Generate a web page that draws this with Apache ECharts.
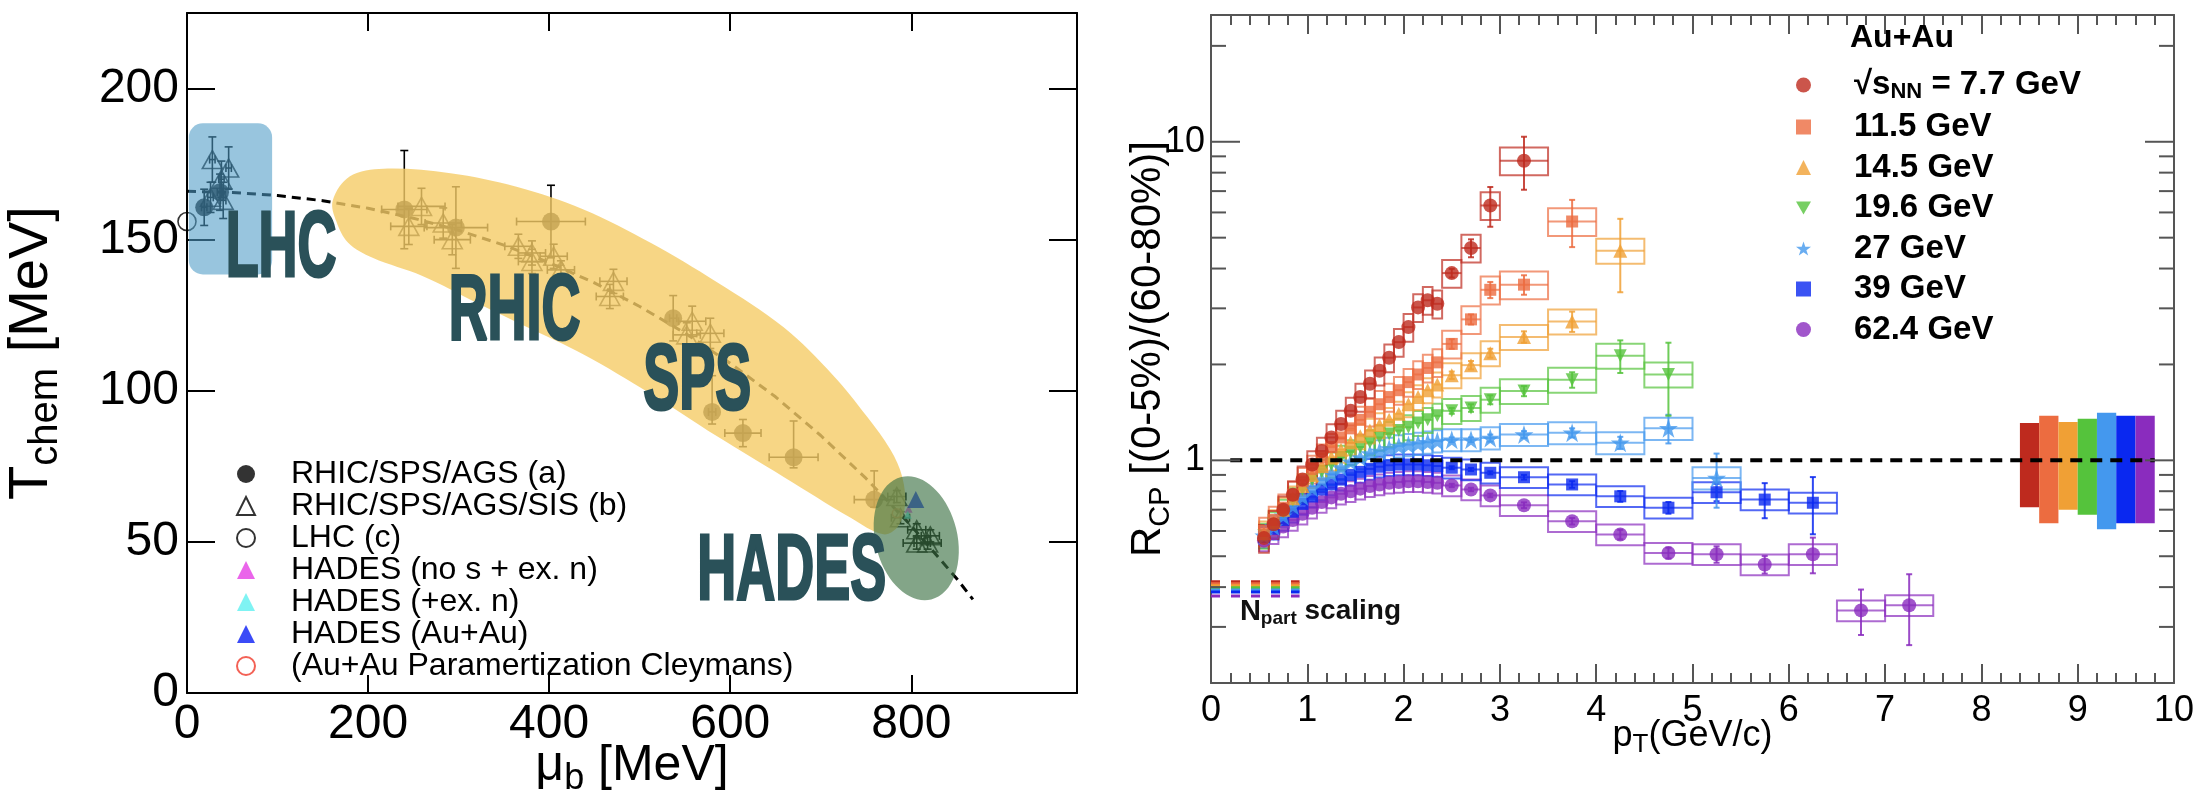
<!DOCTYPE html>
<html>
<head>
<meta charset="utf-8">
<script src="https://cdn.jsdelivr.net/npm/echarts@6/dist/echarts.min.js"></script>
<style>
html, body { margin: 0; padding: 0; background: #fff; }
#chart { width: 2204px; height: 810px; }
</style>
</head>
<body>
<div id="chart"></div>
<script>
const FONT = '"Liberation Sans", Arial, sans-serif'

// region left panel data (mu_b [MeV], T_chem [MeV])

const curveMu = [0, 50, 100, 150, 200, 250, 300, 350, 400, 450, 500, 550, 600, 650, 700, 750, 800, 850, 868]
const curveT = [166, 165.6, 164.6, 162.9, 160.4, 157.1, 153.1, 148.2, 142.4, 135.7, 127.9, 119.1, 109.1, 98, 85.2, 71, 55.3, 37.9, 31]

const aMu = [19, 36.5, 240, 297, 402, 537, 580, 614, 670, 759]
const aT = [160.7, 165.7, 160, 154, 156, 124, 93, 86, 78, 64]
const aMuErr = [3, 3, 25, 35, 38, 4, 4, 20, 27, 22]
const aTLo = [6, 6, 13, 13.5, 12, 7.5, 4, 4.5, 3.5, 2.5]
const aTHi = [6, 6, 19.5, 13.5, 12, 7.5, 12, 4.5, 12, 9.5]

const bMu = [28, 46, 38, 26, 40, 259, 245, 283, 293, 366, 381, 381, 405, 413, 471, 467, 558, 552, 578, 784, 788, 806, 821, 806, 818]
const bT = [176.5, 173.7, 170, 164, 163, 161, 154.4, 155.5, 150, 147.8, 145.6, 142.8, 144.5, 140, 136.2, 131.2, 123, 118.5, 119, 65, 58, 54, 52, 49.6, 49.6]
const bMuErr = [3, 3, 3, 3, 3, 26, 20, 20, 20, 15, 15, 15, 15, 15, 15, 15, 15, 15, 15, 10, 10, 10, 10, 15, 15]
const bTErr = [7.5, 7, 6, 5, 6, 6, 6, 5, 5, 4, 4, 4, 4, 3, 4, 4, 5, 4, 5, 2, 2, 2, 2, 2, 2]

const lhcPoint = [[0, 156]]
const hadesNoS = [[797, 61]]
const hadesExN = [[796, 59]]
const hadesAuAu = [[805, 64]]
const cleymansPoint = [[784, 59.5]]

const blueBoxCorners = [[2, 188.5], [94, 138.5]]
const yellowBand = [[161, 163], [180, 171], [217, 173.5], [291, 172], [364, 167.5], [438, 160], [512, 149], [585, 136],
  [659, 121], [714, 105], [751, 91.5], [777, 80.5], [790, 71.5], [793, 62], [785, 55], [769, 52.5], [733, 58],
  [659, 71.5], [585, 85], [512, 99], [438, 112], [376, 121], [321, 129], [260, 138], [205, 144], [178, 149], [165, 156]]
const greenEllipseCenter = [805.5, 51.2]

const regionNames = ['LHC', 'RHIC', 'SPS', 'HADES']
const regionPos = [[42.7, 146.4], [289, 125.5], [504, 102.5], [563.7, 39.6]]

// endregion

// region right panel data (pT [GeV/c], R_CP)

const ptCenters = [0.55, 0.65, 0.75, 0.85, 0.95, 1.05, 1.15, 1.25, 1.35, 1.45, 1.55, 1.65, 1.75, 1.85, 1.95, 2.05, 2.15, 2.25, 2.35,
  2.5, 2.7, 2.9, 3.25, 3.75, 4.25, 4.75, 5.25, 5.75, 6.25, 6.75, 7.25]
const ptHalfWidths = [0.05, 0.05, 0.05, 0.05, 0.05, 0.05, 0.05, 0.05, 0.05, 0.05, 0.05, 0.05, 0.05, 0.05, 0.05, 0.05, 0.05, 0.05, 0.05,
  0.1, 0.1, 0.1, 0.25, 0.25, 0.25, 0.25, 0.25, 0.25, 0.25, 0.25, 0.25]

const rcp7p7 = [0.57, 0.63, 0.70, 0.78, 0.87, 0.97, 1.07, 1.18, 1.30, 1.43, 1.58, 1.74, 1.91, 2.10, 2.35, 2.62, 3.02, 3.18, 3.10,
  3.87, 4.64, 6.31, 8.72, null, null, null, null, null, null, null, null]
const rcp11p5 = [0.60, 0.65, 0.71, 0.78, 0.86, 0.94, 1.02, 1.10, 1.18, 1.26, 1.34, 1.42, 1.50, 1.58, 1.66, 1.76, 1.86, 1.95, 2.03,
  2.32, 2.77, 3.43, 3.56, 5.62, null, null, null, null, null, null, null]
const rcp14p5 = [0.59, 0.64, 0.70, 0.76, 0.83, 0.90, 0.96, 1.02, 1.08, 1.14, 1.19, 1.24, 1.29, 1.34, 1.40, 1.50, 1.58, 1.66, 1.73,
  1.85, 1.99, 2.17, 2.44, 2.73, 4.55, null, null, null, null, null, null]
const rcp19p6 = [0.58, 0.63, 0.69, 0.75, 0.81, 0.87, 0.92, 0.97, 1.02, 1.06, 1.10, 1.14, 1.18, 1.21, 1.24, 1.27, 1.31, 1.34, 1.38,
  1.43, 1.46, 1.55, 1.65, 1.79, 2.13, 1.86, null, null, null, null, null]
const rcp27 = [0.58, 0.62, 0.67, 0.72, 0.77, 0.82, 0.87, 0.91, 0.95, 0.99, 1.02, 1.05, 1.07, 1.09, 1.11, 1.12, 1.13, 1.14, 1.15,
  1.16, 1.16, 1.175, 1.205, 1.22, 1.135, 1.26, 0.88, null, null, null, null]
const rcp39 = [0.575, 0.61, 0.65, 0.69, 0.73, 0.77, 0.81, 0.84, 0.87, 0.90, 0.92, 0.94, 0.955, 0.965, 0.97, 0.97, 0.97, 0.965, 0.96,
  0.948, 0.936, 0.914, 0.885, 0.84, 0.771, 0.71, 0.794, 0.753, 0.736, null, null]
const rcp62p4 = [0.56, 0.59, 0.62, 0.65, 0.68, 0.71, 0.74, 0.765, 0.785, 0.80, 0.815, 0.83, 0.84, 0.85, 0.855, 0.86, 0.86, 0.855, 0.85,
  0.834, 0.81, 0.776, 0.723, 0.644, 0.585, 0.512, 0.507, 0.471, 0.507, 0.338, 0.351]

// statistical errors of the wide bins (pT >= 2.5), same order as ptCenters from index 19
const stat7p7 = [0.12, 0.3, 0.9, 1.65]
const stat11p5 = [0.08, 0.1, 0.2, 0.25, 0.95]
const stat14p5 = [0.05, 0.06, 0.07, 0.1, 0.2, 1.18]
const stat19p6 = [0.03, 0.04, 0.05, 0.06, 0.1, 0.25, 0.48]
const stat27 = [0.02, 0.02, 0.03, 0.03, 0.04, 0.05, 0.13, 0.17]
const stat39 = [0.01, 0.01, 0.01, 0.015, 0.02, 0.03, 0.03, 0.05, 0.095, 0.15]
const stat62p4 = [0.01, 0.01, 0.01, 0.015, 0.015, 0.02, 0.02, 0.03, 0.03, 0.065, 0.055, 0.088]

const energyNames = ['7.7 GeV', '11.5 GeV', '14.5 GeV', '19.6 GeV', '27 GeV', '39 GeV', '62.4 GeV']
const energyColors = ['#be2a1e', '#ec6c40', '#f0a035', '#55c33c', '#4498ee', '#0a28f0', '#8a2cbe']
const sysRel = [0.10, 0.10, 0.09, 0.09, 0.08, 0.075, 0.075]

const normCenters = [8.5, 8.7, 8.9, 9.1, 9.3, 9.5, 9.7]
const normLow = [0.713, 0.635, 0.70, 0.675, 0.608, 0.635, 0.635]
const normHigh = [1.31, 1.38, 1.32, 1.35, 1.41, 1.38, 1.38]
const npartLevels = [0.416, 0.41, 0.404, 0.398, 0.392, 0.386, 0.375]

const rcpMinorTicks = [0.2, 0.3, 0.4, 0.5, 0.6, 0.7, 0.8, 0.9, 2, 3, 4, 5, 6, 7, 8, 9, 20]
const rcpMajorTicks = [1, 10]

// endregion

const starPath = 'path://M50,0L61.8,35.5L99,35.5L69,57.5L80.5,93L50,71L19.5,93L31,57.5L1,35.5L38.2,35.5Z'
const downTriPath = 'path://M0,0L100,0L50,87Z'
const energySymbols = ['circle', 'rect', 'triangle', downTriPath, starPath, 'rect', 'circle']
const energySizes = [14, 12, 14, 13, 19, 12, 14]
const allRcp = [rcp7p7, rcp11p5, rcp14p5, rcp19p6, rcp27, rcp39, rcp62p4]
const allStat = [stat7p7, stat11p5, stat14p5, stat19p6, stat27, stat39, stat62p4]

function ln(x1, y1, x2, y2, stroke, w, opacity) {
  return {type: 'line', shape: {x1, y1, x2, y2}, style: {stroke, lineWidth: w, opacity: opacity == null ? 1 : opacity}}
}

function zip(xs, ys) {
  return xs.map((x, i) => [x, ys[i]])
}

// region left series

function leftErrorBars(mu, t, muErr, tLo, tHi) {
  return {
    type: 'custom', xAxisIndex: 0, yAxisIndex: 0, z: 2, silent: true,
    data: mu.map((m, i) => [m, t[i], muErr[i], tLo[i], tHi[i]]),
    renderItem: (params, api) => {
      const x = api.value(0), y = api.value(1), ex = api.value(2)
      const top = api.coord([x, y + api.value(4)])
      const bot = api.coord([x, y - api.value(3)])
      const l = api.coord([x - ex, y])
      const r = api.coord([x + ex, y])
      const cap = 4
      const ch = [
        ln(top[0], top[1], bot[0], bot[1], '#000', 1.6),
        ln(top[0] - cap, top[1], top[0] + cap, top[1], '#000', 1.6),
        ln(bot[0] - cap, bot[1], bot[0] + cap, bot[1], '#000', 1.6)
      ]
      if (ex > 0) {
        ch.push(ln(l[0], l[1], r[0], r[1], '#000', 1.6))
        ch.push(ln(l[0], l[1] - cap, l[0], l[1] + cap, '#000', 1.6))
        ch.push(ln(r[0], r[1] - cap, r[0], r[1] + cap, '#000', 1.6))
      }
      return {type: 'group', children: ch}
    }
  }
}

const leftSeries = [
  {
    type: 'line', xAxisIndex: 0, yAxisIndex: 0, z: 2, silent: true, symbol: 'none',
    data: zip(curveMu, curveT),
    lineStyle: {color: '#000', width: 3, type: [9, 6]}
  },
  leftErrorBars(aMu, aT, aMuErr, aTLo, aTHi),
  leftErrorBars(bMu, bT, bMuErr, bTErr, bTErr),
  {
    name: 'RHIC/SPS/AGS (a)', type: 'scatter', xAxisIndex: 0, yAxisIndex: 0, z: 2,
    symbol: 'circle', symbolSize: 18, itemStyle: {color: '#000'},
    data: zip(aMu, aT)
  },
  {
    name: 'RHIC/SPS/AGS/SIS (b)', type: 'scatter', xAxisIndex: 0, yAxisIndex: 0, z: 2,
    symbol: 'triangle', symbolSize: [20, 18], itemStyle: {color: 'rgba(0,0,0,0)', borderColor: '#000', borderWidth: 1.6},
    data: zip(bMu, bT)
  },
  {
    name: 'LHC (c)', type: 'scatter', xAxisIndex: 0, yAxisIndex: 0, z: 2, clip: false,
    symbol: 'circle', symbolSize: 18, itemStyle: {color: 'rgba(0,0,0,0)', borderColor: '#000', borderWidth: 1.6},
    data: lhcPoint
  },
  {
    name: 'HADES (no s + ex. n)', type: 'scatter', xAxisIndex: 0, yAxisIndex: 0, z: 2,
    symbol: 'triangle', symbolSize: 8, itemStyle: {color: '#e53fe5'},
    data: hadesNoS
  },
  {
    name: 'HADES (+ex. n)', type: 'scatter', xAxisIndex: 0, yAxisIndex: 0, z: 2,
    symbol: 'triangle', symbolSize: 8, itemStyle: {color: '#5ff0f0'},
    data: hadesExN
  },
  {
    name: 'HADES (Au+Au)', type: 'scatter', xAxisIndex: 0, yAxisIndex: 0, z: 2,
    symbol: 'triangle', symbolSize: 17, itemStyle: {color: '#0a1ef5'},
    data: hadesAuAu
  },
  {
    name: '(Au+Au Paramertization Cleymans)', type: 'scatter', xAxisIndex: 0, yAxisIndex: 0, z: 2,
    symbol: 'circle', symbolSize: 9, itemStyle: {color: 'rgba(0,0,0,0)', borderColor: '#f03a2a', borderWidth: 1.5},
    data: cleymansPoint
  },
  {
    type: 'custom', xAxisIndex: 0, yAxisIndex: 0, z: 3, silent: true,
    data: [blueBoxCorners[0]],
    renderItem: (params, api) => {
      const p0 = api.coord(blueBoxCorners[0]), p1 = api.coord(blueBoxCorners[1])
      return {
        type: 'rect',
        shape: {x: p0[0], y: p0[1], width: p1[0] - p0[0], height: p1[1] - p0[1], r: 14},
        style: {fill: 'rgba(78,155,198,0.58)'}
      }
    }
  },
  {
    type: 'custom', xAxisIndex: 0, yAxisIndex: 0, z: 3, silent: true,
    data: [yellowBand[0]],
    renderItem: (params, api) => ({
      type: 'polygon',
      shape: {points: yellowBand.map(p => api.coord(p)), smooth: 0.35},
      style: {fill: 'rgba(245,204,103,0.8)'}
    })
  },
  {
    type: 'custom', xAxisIndex: 0, yAxisIndex: 0, z: 3, silent: true,
    data: [greenEllipseCenter],
    renderItem: (params, api) => {
      const c = api.coord(greenEllipseCenter)
      return {
        type: 'ellipse', x: c[0], y: c[1], rotation: 0.24,
        shape: {cx: 0, cy: 0, rx: 41, ry: 63},
        style: {fill: 'rgba(61,114,69,0.64)'}
      }
    }
  },
  {
    type: 'custom', xAxisIndex: 0, yAxisIndex: 0, z: 4, silent: true,
    data: regionPos,
    renderItem: (params, api) => {
      const p = api.coord([api.value(0), api.value(1)])
      return {
        type: 'text', x: p[0], y: p[1], scaleX: 0.58,
        style: {
          text: regionNames[params.dataIndex], font: 'bold 93px "Liberation Sans"',
          fill: '#2a5159', stroke: '#2a5159', lineWidth: 3, align: 'left', verticalAlign: 'middle'
        }
      }
    }
  }
]

// endregion

// region right series

function sysBoxSeries(k) {
  const values = allRcp[k], stat = allStat[k], color = energyColors[k], sys = sysRel[k]
  const data = []
  ptCenters.forEach((pt, i) => {
    if (values[i] != null) data.push([pt, values[i], ptHalfWidths[i], i >= 19 ? stat[i - 19] : 0])
  })
  return {
    type: 'custom', xAxisIndex: 2, yAxisIndex: 2, z: 2, silent: true,
    data,
    renderItem: (params, api) => {
      const x = api.value(0), y = api.value(1), hw = api.value(2), e = api.value(3)
      const tl = api.coord([x - hw, y * (1 + sys)])
      const br = api.coord([x + hw, y * (1 - sys)])
      const l = api.coord([x - hw, y]), r = api.coord([x + hw, y])
      const ch = [
        {
          type: 'rect', shape: {x: tl[0], y: tl[1], width: br[0] - tl[0], height: br[1] - tl[1]},
          style: {fill: 'none', stroke: color, lineWidth: 2, opacity: 0.7}
        },
        ln(l[0], l[1], r[0], r[1], color, 2, 0.7)
      ]
      if (e > 0) {
        const t = api.coord([x, y + e]), b = api.coord([x, y - e])
        ch.push(ln(t[0], t[1], b[0], b[1], color, 2, 0.85))
        ch.push(ln(t[0] - 3, t[1], t[0] + 3, t[1], color, 2, 0.85))
        ch.push(ln(b[0] - 3, b[1], b[0] + 3, b[1], color, 2, 0.85))
      }
      return {type: 'group', children: ch}
    }
  }
}

const rightSeries = []

// global normalisation bars
rightSeries.push({
  type: 'custom', xAxisIndex: 2, yAxisIndex: 2, z: 2, silent: true,
  data: normCenters.map((c, i) => [c, normLow[i], normHigh[i]]),
  renderItem: (params, api) => {
    const c = api.value(0)
    const a = api.coord([c - 0.1, api.value(2)]), b = api.coord([c + 0.1, api.value(1)])
    return {
      type: 'rect', shape: {x: a[0], y: a[1], width: b[0] - a[0], height: b[1] - a[1]},
      style: {fill: energyColors[params.dataIndex]}
    }
  }
})

// N_part scaling dashes
npartLevels.forEach((v, k) => {
  rightSeries.push({
    type: 'line', xAxisIndex: 2, yAxisIndex: 2, z: 2, silent: true, symbol: 'none',
    data: [[0, v], [0.92, v]],
    lineStyle: {color: energyColors[k], width: 3, type: [9, 11]}
  })
})

for (let k = 6; k >= 0; k--) {
  rightSeries.push(sysBoxSeries(k))
  const data = []
  ptCenters.forEach((pt, i) => {
    if (allRcp[k][i] != null) data.push([pt, allRcp[k][i]])
  })
  rightSeries.push({
    name: energyNames[k], type: 'scatter', xAxisIndex: 2, yAxisIndex: 2, z: 3,
    symbol: energySymbols[k], symbolSize: energySizes[k],
    itemStyle: {color: energyColors[k]},
    data
  })
}

// unity line
rightSeries.push({
  type: 'line', xAxisIndex: 2, yAxisIndex: 2, z: 5, silent: true, symbol: 'none',
  data: [[0.2, 1], [9.8, 1]],
  lineStyle: {color: '#000', width: 4, type: [12, 8]}
})

// log axis ticks (left and right frame)
rightSeries.push({
  type: 'custom', xAxisIndex: 2, yAxisIndex: 2, z: 6, silent: true,
  data: rcpMinorTicks.concat(rcpMajorTicks).map(v => [0, v]),
  renderItem: (params, api) => {
    const v = api.value(1)
    const len = rcpMajorTicks.indexOf(v) >= 0 ? 29 : 15
    const p = api.coord([0, v]), q = api.coord([10, v])
    return {
      type: 'group', children: [
        ln(p[0], p[1], p[0] + len, p[1], '#555', 2),
        ln(q[0], q[1], q[0] - len, q[1], '#555', 2)
      ]
    }
  }
})

// N_part scaling label
rightSeries.push({
  type: 'custom', xAxisIndex: 2, yAxisIndex: 2, z: 6, silent: true,
  data: [[0.3, 0.335]],
  renderItem: (params, api) => {
    const p = api.coord([api.value(0), api.value(1)])
    return {
      type: 'text', x: p[0], y: p[1],
      style: {
        text: '{n|N}{p|part}{s| scaling}', align: 'left', verticalAlign: 'middle',
        rich: {
          n: {fontSize: 29, fontWeight: 'bold', fontFamily: FONT, lineHeight: 34, fill: '#111'},
          p: {fontSize: 19, fontWeight: 'bold', fontFamily: FONT, lineHeight: 20, verticalAlign: 'bottom', fill: '#111'},
          s: {fontSize: 28, fontWeight: 'bold', fontFamily: FONT, lineHeight: 34, fill: '#111'}
        }
      }
    }
  }
})

// endregion

const blackAxis = {show: true, onZero: false, lineStyle: {color: '#000', width: 2}}
const greyAxis = {show: true, onZero: false, lineStyle: {color: '#555', width: 2}}

const option = {
  animation: false,
  textStyle: {fontFamily: FONT},
  title: {
    text: 'Au+Au', left: 1850, top: 22, padding: 0,
    textStyle: {fontSize: 32, fontWeight: 'bold', fontFamily: FONT, color: '#000'}
  },
  legend: [
    {
      orient: 'vertical', left: 231, top: 453, itemWidth: 18, itemHeight: 18, itemGap: 0,
      data: ['RHIC/SPS/AGS (a)', 'RHIC/SPS/AGS/SIS (b)', 'LHC (c)', 'HADES (no s + ex. n)', 'HADES (+ex. n)',
        'HADES (Au+Au)', '(Au+Au Paramertization Cleymans)'],
      textStyle: {fontSize: 32, lineHeight: 30, color: '#000', fontFamily: FONT, padding: [0, 0, 0, 31]},
      selectedMode: false
    },
    {
      orient: 'vertical', left: 1791, top: 62, itemWidth: 15, itemHeight: 15, itemGap: 7.5,
      data: energyNames,
      formatter: name => name === '7.7 GeV' ? '{t|√}{t|s}{sub|NN}{t| = 7.7 GeV}' : name,
      textStyle: {
        fontSize: 33, fontWeight: 'bold', lineHeight: 30, color: '#000', fontFamily: FONT, padding: [0, 0, 0, 38],
        rich: {
          t: {fontSize: 33, fontWeight: 'bold', fontFamily: FONT, lineHeight: 36, color: '#000'},
          sub: {fontSize: 22, fontWeight: 'bold', fontFamily: FONT, lineHeight: 22, verticalAlign: 'bottom', color: '#000'}
        }
      },
      selectedMode: false
    }
  ],
  grid: [
    {left: 187, top: 13, width: 890, height: 680, outerBoundsMode: 'none', containLabel: false},
    {left: 1211, top: 15, width: 963, height: 668, outerBoundsMode: 'none', containLabel: false}
  ],
  xAxis: [
    {
      gridIndex: 0, type: 'value', position: 'bottom', min: 0, max: 983, interval: 200,
      axisLine: blackAxis,
      axisTick: {inside: true, length: 18, lineStyle: {color: '#000', width: 2}, customValues: [0, 200, 400, 600, 800]},
      axisLabel: {fontSize: 48, color: '#000', margin: 8, customValues: [0, 200, 400, 600, 800]},
      splitLine: {show: false},
      name: '{m|μ}{s|b}{m| [MeV]}', nameLocation: 'middle', nameGap: 42, nameMoveOverlap: false,
      nameTextStyle: {
        rich: {
          m: {fontSize: 50, lineHeight: 62, color: '#000', fontFamily: FONT},
          s: {fontSize: 36, lineHeight: 30, verticalAlign: 'bottom', color: '#000', fontFamily: FONT}
        }
      }
    },
    {
      gridIndex: 0, type: 'value', position: 'top', min: 0, max: 983, interval: 200,
      axisLine: blackAxis,
      axisTick: {inside: true, length: 18, lineStyle: {color: '#000', width: 2}, customValues: [0, 200, 400, 600, 800]},
      axisLabel: {show: false}, splitLine: {show: false}
    },
    {
      gridIndex: 1, type: 'value', position: 'bottom', min: 0, max: 10, interval: 1,
      axisLine: greyAxis,
      axisTick: {inside: true, length: 19, lineStyle: {color: '#555', width: 2}},
      minorTick: {show: true, splitNumber: 5, length: 10, lineStyle: {color: '#555', width: 2}},
      axisLabel: {fontSize: 36, color: '#000', margin: 10},
      splitLine: {show: false},
      name: '{m|p}{s|T}{m|(GeV/c)}', nameLocation: 'middle', nameGap: 31, nameMoveOverlap: false,
      nameTextStyle: {
        rich: {
          m: {fontSize: 36, lineHeight: 44, color: '#000', fontFamily: FONT},
          s: {fontSize: 26, lineHeight: 22, verticalAlign: 'bottom', color: '#000', fontFamily: FONT}
        }
      }
    },
    {
      gridIndex: 1, type: 'value', position: 'top', min: 0, max: 10, interval: 1,
      axisLine: greyAxis,
      axisTick: {inside: true, length: 19, lineStyle: {color: '#555', width: 2}},
      minorTick: {show: true, splitNumber: 5, length: 10, lineStyle: {color: '#555', width: 2}},
      axisLabel: {show: false}, splitLine: {show: false}
    }
  ],
  yAxis: [
    {
      gridIndex: 0, type: 'value', position: 'left', min: 0, max: 225, interval: 50,
      axisLine: blackAxis,
      axisTick: {inside: true, length: 28, lineStyle: {color: '#000', width: 2}, customValues: [0, 50, 100, 150, 200]},
      axisLabel: {fontSize: 48, color: '#000', margin: 8, customValues: [0, 50, 100, 150, 200]},
      splitLine: {show: false},
      name: '{m|T}{s|chem}{m| [MeV]}', nameLocation: 'middle', nameRotate: 90, nameGap: 121, nameMoveOverlap: false,
      nameTextStyle: {
        rich: {
          m: {fontSize: 56, lineHeight: 68, color: '#000', fontFamily: FONT},
          s: {fontSize: 40, lineHeight: 32, verticalAlign: 'bottom', color: '#000', fontFamily: FONT}
        }
      }
    },
    {
      gridIndex: 0, type: 'value', position: 'right', min: 0, max: 225, interval: 50,
      axisLine: blackAxis,
      axisTick: {inside: true, length: 28, lineStyle: {color: '#000', width: 2}, customValues: [0, 50, 100, 150, 200]},
      axisLabel: {show: false}, splitLine: {show: false}
    },
    {
      gridIndex: 1, type: 'log', logBase: 10, position: 'left', min: 0.2, max: 25,
      axisLine: greyAxis,
      axisTick: {show: false},
      axisLabel: {
        fontSize: 36, color: '#000', margin: 6,
        formatter: v => (Math.abs(v - 1) < 1e-6 || Math.abs(v - 10) < 1e-6) ? String(Math.round(v)) : ''
      },
      splitLine: {show: false},
      name: '{m|R}{s|CP}{m| [(0-5%)/(60-80%)]}', nameLocation: 'middle', nameRotate: 90, nameGap: 36, nameMoveOverlap: false,
      nameTextStyle: {
        rich: {
          m: {fontSize: 42, lineHeight: 54, color: '#000', fontFamily: FONT},
          s: {fontSize: 29, lineHeight: 24, verticalAlign: 'bottom', color: '#000', fontFamily: FONT}
        }
      }
    },
    {
      gridIndex: 1, type: 'log', logBase: 10, position: 'right', min: 0.2, max: 25,
      axisLine: greyAxis,
      axisTick: {show: false}, axisLabel: {show: false}, splitLine: {show: false}
    }
  ],
  series: leftSeries.concat(rightSeries)
}

const chart = echarts.init(document.getElementById('chart'), null, {renderer: 'canvas'})
chart.setOption(option)
</script>
</body>
</html>
